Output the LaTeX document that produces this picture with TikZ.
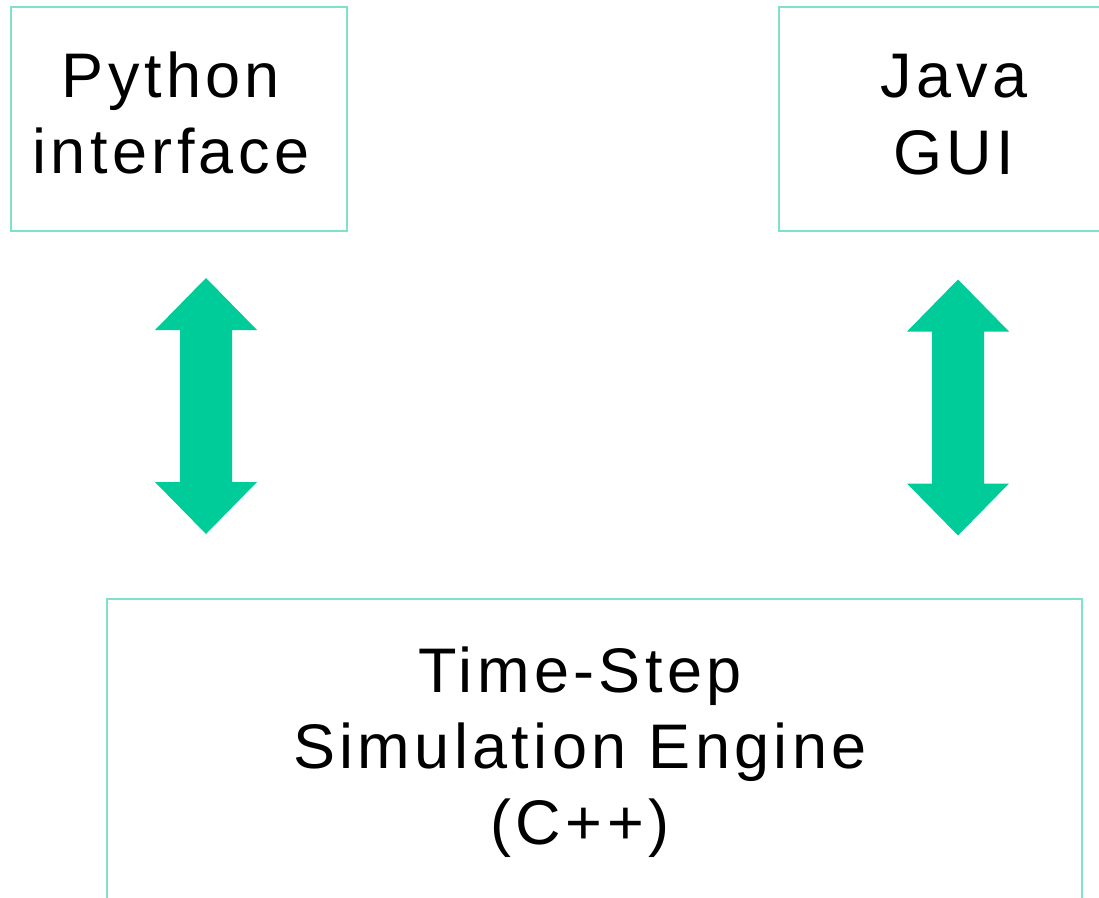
\documentclass[tikz,border=0pt]{standalone}
\usepackage{fontspec}
\setmainfont[LetterSpace=7]{Liberation Sans}
\definecolor{boxline}{HTML}{7FE1C9}
\definecolor{arrowgreen}{HTML}{00CC99}
\tikzset{
  box/.style={draw=boxline, line width=1.5pt, rectangle, inner sep=0pt},
  lbl/.style={anchor=base, inner sep=0pt, font=\fontsize{63}{76}\selectfont, text=black},
  dblarrow/.pic={
    \fill[arrowgreen] (0,-128) -- (51,-76) -- (26,-76) -- (26,76) -- (51,76)
      -- (0,128) -- (-51,76) -- (-26,76) -- (-26,-76) -- (-51,-76) -- cycle;
  }
}
\begin{document}
\begin{tikzpicture}[x=1pt,y=-1pt]
  \useasboundingbox (0,0) rectangle (1099,897);
  \clip (0,0) rectangle (1099,897);
  \fill[white] (0,0) rectangle (1099,897);

  % boxes
  \node[box, minimum width=336pt, minimum height=224pt] (py) at (179,119) {};
  \node[box, minimum width=341pt, minimum height=224pt] (java) at (949.5,119) {};
  \node[box, minimum width=975pt, minimum height=321pt] (engine) at (594.5,759.5) {};

  % labels
  \node[lbl] (py1) at (171,97) {Python};
  \node[lbl] (py2) at (171,173) {interface};
  \node[lbl] (jv1) at (954,97) {Java};
  \node[lbl] (jv2) at (954,174) {GUI};
  \node[lbl] (en1) at (580,692) {Time-Step};
  \node[lbl] (en2) at (580,768) {Simulation Engine};
  \node[lbl] (en3) at (580,844) {(C++)};

  % two-way block arrows
  \coordinate (la) at (206,406);
  \coordinate (ra) at (958,407.5);
  \pic (leftarrow) at (la) {dblarrow};
  \pic (rightarrow) at (ra) {dblarrow};
\end{tikzpicture}
\end{document}
